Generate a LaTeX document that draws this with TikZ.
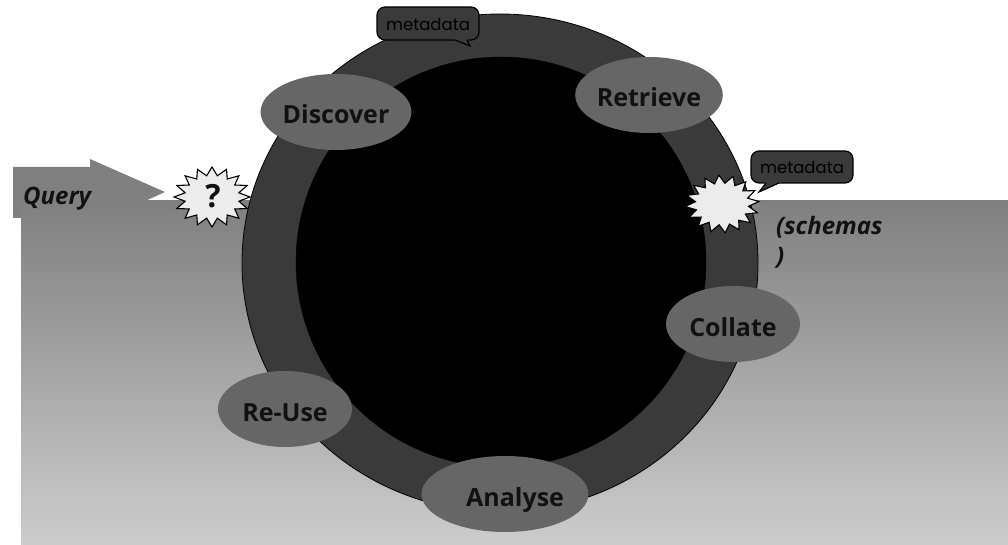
\documentclass[tikz,border=0pt]{standalone}
\usepackage{fontspec}
\setmainfont{Open Sans}
\newfontfamily\metafont{Poppins}
\usetikzlibrary{shapes.geometric}
\definecolor{ringgray}{HTML}{3A3A3A}
\definecolor{stagegray}{HTML}{666666}
\definecolor{burstfill}{HTML}{ECECEC}
\definecolor{txt}{HTML}{111111}
\tikzset{
  stage/.style={ellipse, fill=stagegray, minimum width=134pt, minimum height=76pt, inner sep=0pt,
    text=txt, font=\fontsize{25}{30}\selectfont\bfseries, text height=24pt, text depth=0pt},
  burst/.style={fill=burstfill, draw=black, line width=1.1pt, line join=miter},
  callout/.style={fill=ringgray, draw=black, line width=1.2pt},
  metatext/.style={text=black, font=\metafont\fontsize{16.5}{18}\selectfont, inner sep=0pt},
  sidetext/.style={text=txt, font=\fontsize{24}{30}\selectfont\bfseries\itshape, inner sep=0pt}
}
\begin{document}
\begin{tikzpicture}[x=1pt,y=1pt]
\useasboundingbox (0,0) rectangle (1008,544);
% query arrow
\fill[black!50] (13,377) -- (90,377) -- (90,385) -- (165,352) -- (90,318) -- (90,326) -- (13,326) -- cycle;
% gradient ground
\shade[top color=black!50, bottom color=black!20] (21,0) rectangle (1008,343);
% ring
\filldraw[fill=ringgray, draw=black, line width=0.8pt] (500,281) ellipse [x radius=258, y radius=249];
\filldraw[fill=black, draw=black] (501,282) circle [radius=205];
% stages
\node[stage] (discover) at (336,432) {Discover};
\node[stage] (retrieve) at (649,449) {Retrieve};
\node[stage] (collate) at (733,220) {Collate};
\node[stage] (reuse) at (285,135) {Re-Use};
\node[stage, text width=118pt, align=right] (analyse) at (505,50) {Analyse};
% bursts
\begin{scope}[shift={(212,347)}]
\draw[burst] plot[samples at={0,...,31}] ({38*(1-0.28*mod(\x,2))*cos(\x*11.25)}, {30*(1-0.28*mod(\x,2))*sin(\x*11.25)}) -- cycle;
\end{scope}
\node[text=txt, font=\fontsize{32}{36}\selectfont\bfseries, inner sep=0pt] (qmark) at (213,348) {?};
\begin{scope}[shift={(722,340)}]
\draw[burst] plot[samples at={0,...,31}] ({37*(1-0.28*mod(\x,2))*cos(\x*11.25+5)}, {29*(1-0.28*mod(\x,2))*sin(\x*11.25+5)}) -- cycle;
\end{scope}
% callout top
\draw[callout, rounded corners=8pt] (377,504) rectangle (479,537);
\fill[ringgray] (453,506) -- (455,504) -- (470,498) -- (467,504) -- (469,506) -- cycle;
\draw[line width=1.2pt, line join=miter] (455,504) -- (470,498) -- (467,504);
\node[metatext] (meta1) at (428,520) {metadata};
% callout right
\draw[callout, rounded corners=8pt] (751,361) rectangle (853,393);
\fill[ringgray] (764,363) -- (766,361) -- (759,352) -- (779,361) -- (781,363) -- cycle;
\draw[line width=1.2pt, line join=miter] (766,361) -- (759,352) -- (779,361);
\node[metatext] (meta2) at (802,377) {metadata};
% side texts
\node[sidetext, anchor=base west] (query) at (23,339) {Query};
\node[sidetext, anchor=north west, align=left] (schemas) at (776,328) {(schemas\\)};
\end{tikzpicture}
\end{document}
